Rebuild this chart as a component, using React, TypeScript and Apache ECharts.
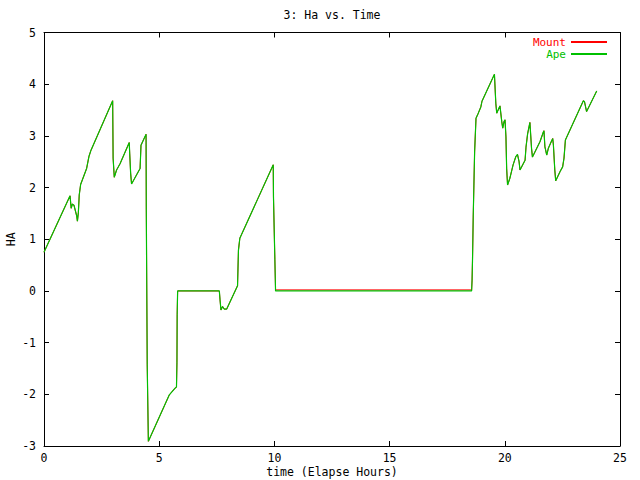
import React, { useEffect, useRef } from "react";
import * as echarts from "echarts";

const TITLE = "3: Ha vs. Time";
const X_NAME = "time (Elapse Hours)";
const Y_NAME = "HA";
const SERIES_NAMES = ["Mount", "Ape"];

// elapsed hours
const times = [
  0, 1.13, 1.18, 1.23, 1.3, 1.42, 1.45, 1.49, 1.53, 1.59, 1.85, 1.95, 2.03, 2.98, 3.0, 3.05,
  3.15, 3.3, 3.7, 3.72, 3.76, 3.8, 4.17, 4.21, 4.43, 4.44, 4.48, 4.53, 5.44, 5.69, 5.75, 5.77,
  5.78, 5.8, 7.61, 7.64, 7.68, 7.75, 7.82, 7.93, 8.4, 8.44, 8.5, 9.95, 9.96, 10.02, 10.05,
  18.56, 18.58, 18.6, 18.63, 18.69, 18.75, 18.85, 18.96, 19.01, 19.55, 19.61, 19.65, 19.72,
  19.79, 19.87, 19.91, 19.97, 20.01, 20.05, 20.08, 20.12, 20.22, 20.29, 20.36, 20.48, 20.55,
  20.62, 20.66, 20.88, 20.92, 20.99, 21.09, 21.16, 21.2, 21.53, 21.67, 21.7, 21.74, 21.82,
  21.89, 21.99, 22.08, 22.11, 22.17, 22.21, 22.4, 22.51, 22.57, 22.63, 23.41, 23.46, 23.55,
  23.99,
];

const apeValues = [
  0.75, 1.84, 1.6, 1.68, 1.66, 1.45, 1.35, 1.51, 1.86, 2.06, 2.37, 2.6, 2.71, 3.68, 2.57, 2.2,
  2.34, 2.46, 2.87, 2.66, 2.28, 2.07, 2.37, 2.82, 3.03, 1.57, -1.43, -2.91, -2.01, -1.88, -1.86,
  -1.39, -0.46, 0, 0, -0.17, -0.37, -0.3, -0.35, -0.35, 0.1, 0.79, 1.02, 2.44, 1.82, 0.61, 0,
  0, 0.21, 0.63, 1.45, 2.69, 3.34, 3.44, 3.56, 3.67, 4.19, 3.63, 3.44, 3.51, 3.58, 3.27, 3.15,
  3.28, 3.31, 2.98, 2.37, 2.05, 2.18, 2.31, 2.44, 2.6, 2.64, 2.5, 2.34, 2.53, 2.78, 3.04, 3.26,
  2.76, 2.59, 2.89, 3.07, 3.1, 2.79, 2.63, 2.76, 2.86, 2.95, 2.82, 2.34, 2.13, 2.31, 2.4, 2.57,
  2.92, 3.68, 3.66, 3.47, 3.87,
];

const mountValues = [
  0.75, 1.84, 1.6, 1.68, 1.66, 1.45, 1.35, 1.51, 1.86, 2.06, 2.37, 2.6, 2.71, 3.68, 2.57, 2.2,
  2.34, 2.46, 2.87, 2.66, 2.28, 2.07, 2.37, 2.82, 3.03, 1.57, -1.43, -2.91, -2.01, -1.88, -1.86,
  -1.39, -0.46, 0, 0, -0.17, -0.37, -0.3, -0.35, -0.35, 0.1, 0.79, 1.02, 2.44, 1.82, 0.61, 0.02,
  0.02, 0.21, 0.63, 1.45, 2.69, 3.34, 3.44, 3.56, 3.67, 4.19, 3.63, 3.44, 3.51, 3.58, 3.27, 3.15,
  3.28, 3.31, 2.98, 2.37, 2.05, 2.18, 2.31, 2.44, 2.6, 2.64, 2.5, 2.34, 2.53, 2.78, 3.04, 3.26,
  2.76, 2.59, 2.89, 3.07, 3.1, 2.79, 2.63, 2.76, 2.86, 2.95, 2.82, 2.34, 2.13, 2.31, 2.4, 2.57,
  2.92, 3.68, 3.66, 3.47, 3.87,
];

const X_MIN = 0;
const X_MAX = 25;
const X_STEP = 5;
const Y_MIN = -3;
const Y_MAX = 5;
const Y_STEP = 1;

const FONT = "DejaVu Sans Mono";
const FONT_SIZE = 11.5;
const RED = "#ff0000";
const GREEN = "#00c000";

export default function App() {
  const ref = useRef<HTMLDivElement>(null);

  useEffect(() => {
    if (!ref.current) return;
    const chart = echarts.init(ref.current, undefined, { renderer: "svg" });

    const mountData = times.map((t, i) => [t, mountValues[i]]);
    const apeData = times.map((t, i) => [t, apeValues[i]]);

    const tickStyle = { show: true, inside: true, length: 5, lineStyle: { color: "#000", width: 1 } };
    const lineStyle = { show: true, onZero: false, lineStyle: { color: "#000", width: 1 } };
    const labelStyle = { fontFamily: FONT, fontSize: FONT_SIZE, color: "#000" };

    chart.setOption({
      animation: false,
      backgroundColor: "#fff",
      title: {
        text: TITLE,
        left: 332,
        textAlign: "center",
        top: 9,
        padding: 0,
        textStyle: { fontFamily: FONT, fontSize: FONT_SIZE, fontWeight: "normal", color: "#000" },
      },
      legend: {
        orient: "vertical",
        right: 33,
        top: 36.5,
        padding: 0,
        align: "right",
        itemGap: 1,
        itemWidth: 36,
        itemHeight: 2,
        icon: "rect",
        textStyle: { fontFamily: FONT, fontSize: 11, lineHeight: 11 },
        data: [
          { name: SERIES_NAMES[0], textStyle: { color: RED } },
          { name: SERIES_NAMES[1], textStyle: { color: GREEN } },
        ],
      },
      grid: { left: 44, right: 20, top: 32.5, bottom: 34, containLabel: false, outerBoundsMode: "none" },
      xAxis: [
        {
          type: "value",
          min: X_MIN,
          max: X_MAX,
          interval: X_STEP,
          name: X_NAME,
          nameLocation: "middle",
          nameGap: 20,
          nameMoveOverlap: false,
          nameTextStyle: labelStyle,
          axisLine: lineStyle,
          axisTick: tickStyle,
          axisLabel: { ...labelStyle, margin: 6 },
          splitLine: { show: false },
        },
        {
          type: "value",
          position: "top",
          min: X_MIN,
          max: X_MAX,
          interval: X_STEP,
          axisLine: lineStyle,
          axisTick: tickStyle,
          axisLabel: { show: false },
          splitLine: { show: false },
        },
      ],
      yAxis: [
        {
          type: "value",
          min: Y_MIN,
          max: Y_MAX,
          interval: Y_STEP,
          name: Y_NAME,
          nameLocation: "middle",
          nameRotate: 90,
          nameGap: 27,
          nameMoveOverlap: false,
          nameTextStyle: labelStyle,
          axisLine: lineStyle,
          axisTick: tickStyle,
          axisLabel: { ...labelStyle, margin: 8 },
          splitLine: { show: false },
        },
        {
          type: "value",
          position: "right",
          min: Y_MIN,
          max: Y_MAX,
          interval: Y_STEP,
          axisLine: lineStyle,
          axisTick: tickStyle,
          axisLabel: { show: false },
          splitLine: { show: false },
        },
      ],
      series: [
        {
          name: SERIES_NAMES[0],
          type: "line",
          data: mountData,
          showSymbol: false,
          symbol: "none",
          color: RED,
          lineStyle: { color: RED, width: 1 },
          z: 2,
        },
        {
          name: SERIES_NAMES[1],
          type: "line",
          data: apeData,
          showSymbol: false,
          symbol: "none",
          color: GREEN,
          lineStyle: { color: GREEN, width: 1.2 },
          z: 3,
        },
      ],
    });

    return () => chart.dispose();
  }, []);

  return <div ref={ref} style={{ width: 640, height: 480, position: "fixed", left: 0, top: 0 }} />;
}
